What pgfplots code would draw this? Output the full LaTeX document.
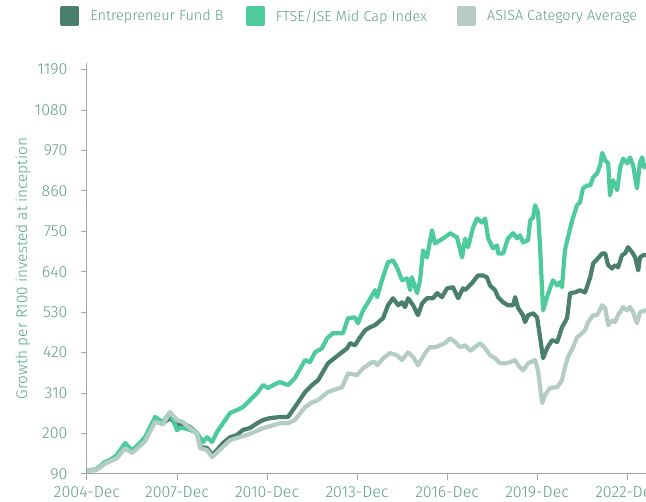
\documentclass[border=0pt]{standalone}
\usepackage{fontspec}
\setmainfont{Fira Sans}[UprightFont=* Light]
\usepackage{pgfplots}
\pgfplotsset{compat=1.18}
\definecolor{cDark}{RGB}{74,127,110}
\definecolor{cBright}{RGB}{77,203,156}
\definecolor{cLight}{RGB}{180,205,196}
\definecolor{cText}{RGB}{94,158,136}
\definecolor{cYlab}{RGB}{82,168,134}
\definecolor{cAxis}{RGB}{165,165,165}
\begin{document}
\begin{tikzpicture}[x=1pt,y=1pt]
\begin{axis}[
  at={(87pt,28pt)}, anchor=south west,
  scale only axis, width=559pt, height=411pt,
  xmin=0, xmax=18.63, ymin=90, ymax=1208,
  axis x line=bottom, axis y line=left,
  axis line style={cAxis, line width=1pt, -},
  xtick={0,3,6,9,12,15,18},
  xticklabels={2004-Dec,2007-Dec,2010-Dec,2013-Dec,2016-Dec,2019-Dec,2022-Dec},
  ytick={90,200,310,420,530,640,750,860,970,1080,1190},
  tick style={cAxis, line width=1pt}, tick align=outside, major tick length=6pt,
  ticklabel style={font=\fontsize{16}{18}\selectfont, text=cText},
  yticklabel style={xshift=-10pt},
  xticklabel style={yshift=-3pt},
  /pgf/number format/assume math mode=true,
  /pgf/number format/1000 sep={},
  ylabel={Growth per R100 invested at inception},
  ylabel style={font=\fontsize{15.4}{17}\selectfont, text=cYlab, at={(axis description cs:-0.1145,0.5)}, anchor=center},
  legend columns=3,
  legend style={at={(axis description cs:-0.0483,1.1144)}, anchor=west, draw=none, fill=none, inner sep=0pt,
    font=\fontsize{14.5}{16}\selectfont, text=cText,
    /tikz/every odd column/.append style={column sep=11pt},
    /tikz/column 2/.append style={column sep=22pt},
    /tikz/column 4/.append style={column sep=30pt},
    nodes={inner sep=0pt}},
  legend image code/.code={\fill[#1] (0pt,-8pt) rectangle (15pt,8pt);},
  every axis plot/.append style={line width=4.2pt, line join=round, line cap=round, mark=none},
]
\addplot[color=cDark] coordinates {(0,100)(0.3,102)(0.6,120)(1.0,136)(1.27,163)(1.5,150)(1.93,182)(2.27,237)(2.53,228)(2.77,242)(3.0,223)(3.1,223)(3.2,228)(3.43,218)(3.67,201)(3.77,163)(4.0,161)(4.17,142)(4.33,155)(4.53,174)(4.77,190)(5.0,196)(5.2,210)(5.43,215)(5.67,228)(5.87,237)(6.1,242)(6.43,245)(6.7,245)(6.93,272)(7.27,313)(7.5,332)(7.7,345)(8.03,391)(8.37,413)(8.67,432)(8.77,446)(8.93,440)(9.1,462)(9.27,481)(9.43,489)(9.6,495)(9.87,514)(10.03,549)(10.2,568)(10.37,549)(10.5,557)(10.6,544)(10.7,568)(10.87,549)(11.03,522)(11.17,554)(11.33,568)(11.53,568)(11.67,582)(11.83,571)(12.0,595)(12.2,598)(12.37,568)(12.53,595)(12.6,590)(12.83,609)(13.03,630)(13.2,630)(13.33,625)(13.43,603)(13.6,590)(13.7,571)(13.87,557)(14.03,549)(14.2,549)(14.27,571)(14.37,541)(14.53,522)(14.6,503)(14.7,522)(14.87,527)(15.0,516)(15.1,462)(15.2,405)(15.33,432)(15.5,454)(15.67,449)(15.83,489)(16.0,514)(16.1,582)(16.27,584)(16.43,590)(16.6,584)(16.77,625)(16.87,663)(17.03,677)(17.17,690)(17.27,690)(17.37,658)(17.5,649)(17.6,658)(17.7,652)(17.83,685)(17.93,690)(18.03,707)(18.17,693)(18.27,679)(18.37,644)(18.43,679)(18.53,685)(18.63,685)};
\addlegendentry{Entrepreneur Fund B}
\addplot[color=cBright] coordinates {(0,100)(0.3,101)(0.6,123)(0.77,128)(1.0,142)(1.27,174)(1.5,155)(1.7,169)(1.93,190)(2.27,245)(2.53,231)(2.77,258)(3.0,209)(3.1,215)(3.2,215)(3.43,210)(3.67,201)(3.87,177)(4.0,190)(4.17,177)(4.33,204)(4.53,228)(4.77,256)(5.0,264)(5.2,272)(5.43,291)(5.67,310)(5.87,332)(6.03,324)(6.33,337)(6.43,340)(6.7,332)(6.93,351)(7.27,400)(7.43,394)(7.6,421)(7.83,432)(8.0,459)(8.2,473)(8.53,473)(8.7,514)(8.93,516)(9.03,500)(9.2,535)(9.37,557)(9.6,590)(9.67,571)(9.83,617)(10.03,666)(10.2,671)(10.33,652)(10.5,617)(10.67,622)(10.77,590)(10.83,625)(11.0,582)(11.1,617)(11.2,698)(11.33,679)(11.5,753)(11.6,717)(11.77,726)(11.93,734)(12.1,745)(12.33,734)(12.5,679)(12.6,730)(12.7,707)(12.87,761)(13.0,785)(13.17,774)(13.27,785)(13.37,731)(13.53,704)(13.67,712)(13.7,690)(13.87,690)(14.03,731)(14.2,745)(14.33,731)(14.43,739)(14.53,720)(14.7,726)(14.77,780)(14.87,788)(14.93,821)(15.03,802)(15.1,707)(15.2,535)(15.33,571)(15.43,595)(15.53,617)(15.67,603)(15.77,612)(15.83,598)(15.93,700)(16.03,734)(16.17,780)(16.33,821)(16.43,829)(16.53,867)(16.67,875)(16.77,875)(16.87,897)(17.0,908)(17.1,929)(17.17,964)(17.27,943)(17.37,935)(17.43,848)(17.53,889)(17.67,862)(17.77,924)(17.87,948)(18.0,935)(18.1,951)(18.2,929)(18.33,867)(18.43,937)(18.5,951)(18.57,924)(18.63,930)};
\addlegendentry{FTSE/JSE Mid Cap Index}
\addplot[color=cLight] coordinates {(0,100)(0.3,100)(0.6,118)(1.0,133)(1.27,160)(1.5,147)(1.93,178)(2.27,232)(2.53,225)(2.77,258)(3.0,237)(3.2,231)(3.43,215)(3.67,200)(3.77,160)(4.0,155)(4.17,136)(4.33,148)(4.77,182)(5.0,188)(5.33,196)(5.6,205)(5.87,215)(6.1,220)(6.43,228)(6.7,228)(6.93,237)(7.27,272)(7.5,285)(7.7,291)(8.03,313)(8.5,326)(8.7,364)(9.0,359)(9.2,378)(9.5,394)(9.6,394)(9.67,386)(9.87,405)(10.1,419)(10.33,413)(10.5,400)(10.7,421)(10.87,408)(11.03,386)(11.27,419)(11.43,435)(11.6,435)(11.77,440)(11.93,446)(12.1,459)(12.27,449)(12.43,435)(12.6,440)(12.77,425)(12.93,435)(13.1,446)(13.27,432)(13.43,413)(13.6,405)(13.77,391)(13.93,391)(14.1,394)(14.27,400)(14.37,386)(14.53,372)(14.7,391)(14.93,400)(15.03,372)(15.17,283)(15.27,305)(15.43,324)(15.67,326)(15.83,345)(15.93,381)(16.03,408)(16.2,435)(16.33,462)(16.43,468)(16.6,481)(16.7,503)(16.87,522)(17.0,522)(17.17,549)(17.27,541)(17.37,495)(17.5,508)(17.6,503)(17.7,522)(17.87,544)(18.0,535)(18.1,544)(18.2,530)(18.33,500)(18.43,530)(18.6,535)(18.63,535)};
\addlegendentry{ASISA Category Average}
\end{axis}
\pgfresetboundingbox
\path (0pt,0pt) rectangle (646pt,502pt);
\end{tikzpicture}
\end{document}
